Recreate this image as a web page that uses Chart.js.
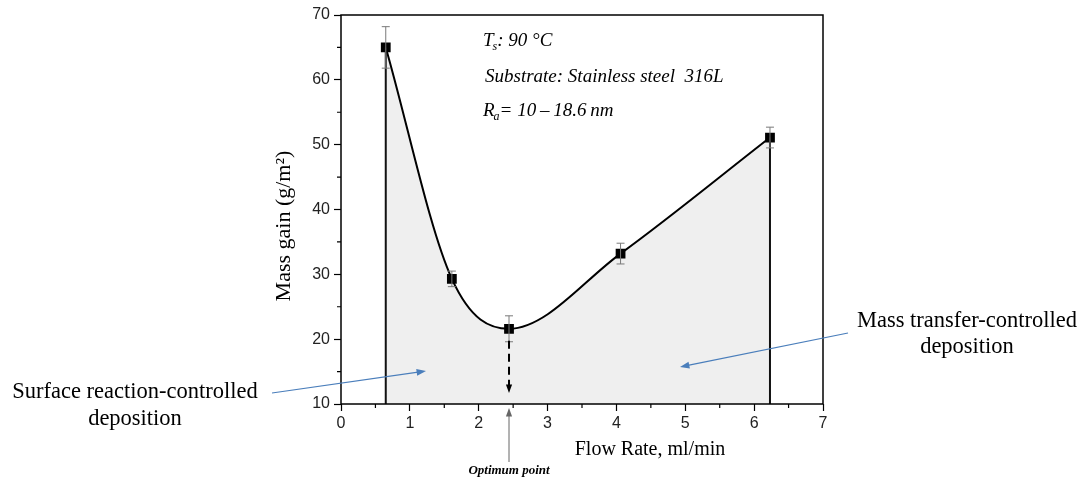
<!DOCTYPE html>
<html>
<head>
<meta charset="utf-8">
<script src="https://cdn.jsdelivr.net/npm/chart.js@4.4.1/dist/chart.umd.min.js"></script>
<style>
  html, body { margin:0; padding:0; background:#fff; }
  #wrap { width:1085px; height:479px; position:relative; }
</style>
</head>
<body>
<div id="wrap"><canvas id="chart" width="1085" height="479"></canvas></div>
<script>
// data
const flowRate = [0.65, 1.61, 2.44, 4.06, 6.23];      // ml/min
const massGain = [65.0, 29.3, 21.6, 33.2, 51.1];      // g/m2
const errGain  = [3.2, 1.2, 2.0, 1.6, 1.6];
const xTicks = [0, 1, 2, 3, 4, 5, 6, 7];
const yTicks = [10, 20, 30, 40, 50, 60, 70];
const optimumX = 2.44;

const SERIF = '"Liberation Serif", "Times New Roman", serif';
const SANS = '"Liberation Sans", Arial, sans-serif';
const BLUE = '#4a7ebb';

const pts = flowRate.map((x, i) => ({ x, y: massGain[i] }));
const firstEdge = [{ x: flowRate[0], y: yTicks[0] }, { x: flowRate[0], y: massGain[0] }];
const lastEdge = [{ x: flowRate[4], y: yTicks[0] }, { x: flowRate[4], y: massGain[4] }];

function arrow(ctx, x1, y1, x2, y2, color, lw, head, dash) {
  const a = Math.atan2(y2 - y1, x2 - x1);
  ctx.save();
  ctx.strokeStyle = color; ctx.fillStyle = color; ctx.lineWidth = lw;
  ctx.setLineDash(dash || []);
  ctx.beginPath();
  ctx.moveTo(x1, y1);
  ctx.lineTo(x2 - Math.cos(a) * head * 0.8, y2 - Math.sin(a) * head * 0.8);
  ctx.stroke();
  ctx.setLineDash([]);
  ctx.beginPath();
  ctx.moveTo(x2, y2);
  ctx.lineTo(x2 - head * Math.cos(a - 0.35), y2 - head * Math.sin(a - 0.35));
  ctx.lineTo(x2 - head * Math.cos(a + 0.35), y2 - head * Math.sin(a + 0.35));
  ctx.closePath();
  ctx.fill();
  ctx.restore();
}

// text with one subscript letter: main, sub, rest
function subText(ctx, x, y, main, sub, rest, size) {
  ctx.font = 'italic ' + size + 'px ' + SERIF;
  ctx.fillText(main, x, y);
  let w = ctx.measureText(main).width;
  ctx.font = 'italic ' + Math.round(size * 0.65) + 'px ' + SERIF;
  ctx.fillText(sub, x + w - 1, y + 4);
  w += ctx.measureText(sub).width - 1;
  ctx.font = 'italic ' + size + 'px ' + SERIF;
  ctx.fillText(rest, x + w, y);
}

const decor = {
  id: 'decor',
  afterDatasetsDraw(chart) {
    const { ctx, chartArea: ca, scales: { x, y } } = chart;
    ctx.save();
    // frame
    ctx.strokeStyle = '#000'; ctx.lineWidth = 1.5;
    ctx.strokeRect(ca.left, ca.top, ca.right - ca.left, ca.bottom - ca.top);

    // minor ticks
    ctx.lineWidth = 1.2;
    ctx.beginPath();
    for (let v = 0.5; v < 7; v += 1) {
      const px = x.getPixelForValue(v);
      ctx.moveTo(px, ca.bottom); ctx.lineTo(px, ca.bottom + 4);
    }
    for (let v = 15; v < 70; v += 10) {
      const py = y.getPixelForValue(v);
      ctx.moveTo(ca.left, py); ctx.lineTo(ca.left - 4, py);
    }
    ctx.stroke();

    // error bars
    ctx.strokeStyle = '#7a7a7a'; ctx.lineWidth = 1;
    flowRate.forEach((fx, i) => {
      const px = x.getPixelForValue(fx);
      const top = y.getPixelForValue(massGain[i] + errGain[i]);
      const bot = y.getPixelForValue(massGain[i] - errGain[i]);
      ctx.beginPath();
      ctx.moveTo(px, top); ctx.lineTo(px, bot);
      ctx.moveTo(px - 4, top); ctx.lineTo(px + 4, top);
      ctx.moveTo(px - 4, bot); ctx.lineTo(px + 4, bot);
      ctx.stroke();
    });

    // optimum arrows
    const ox = x.getPixelForValue(optimumX);
    arrow(ctx, ox, y.getPixelForValue(massGain[2]) + 12, ox, ca.bottom - 11, '#000', 2, 9, [8, 5]);
    arrow(ctx, ox, ca.bottom + 58, ox, ca.bottom + 4, '#666', 1, 9);
    ctx.fillStyle = '#000';
    ctx.font = 'italic bold 13px ' + SERIF;
    ctx.textAlign = 'center'; ctx.textBaseline = 'alphabetic';
    ctx.fillText('Optimum point', ox, ca.bottom + 70);

    // region arrows
    arrow(ctx, 272, 393, 426, 371, BLUE, 1.2, 10);
    arrow(ctx, 848, 333, 680, 367, BLUE, 1.2, 10);

    // conditions text
    ctx.textAlign = 'left';
    subText(ctx, 483, 46, 'T', 's', ': 90 \u00B0C', 19);
    ctx.font = 'italic 19px ' + SERIF;
    ctx.fillText('Substrate: Stainless steel  316L', 485, 82);
    subText(ctx, 483, 116, 'R', 'a', '= 10\u2009\u2013\u200918.6\u2009nm', 19);

    // axis titles
    ctx.textAlign = 'center';
    ctx.font = '20px ' + SERIF;
    ctx.fillText('Flow Rate, ml/min', 650, 455);
    ctx.save();
    ctx.translate(290, 226);
    ctx.rotate(-Math.PI / 2);
    ctx.font = '22px ' + SERIF;
    ctx.fillText('Mass gain (g/m\u00B2)', 0, 0);
    ctx.restore();

    // region labels
    ctx.font = '22.5px ' + SERIF;
    ctx.fillText('Surface reaction-controlled', 135, 398);
    ctx.fillText('deposition', 135, 425);
    ctx.fillText('Mass transfer-controlled', 967, 327);
    ctx.fillText('deposition', 967, 353);
    ctx.restore();
  }
};

new Chart(document.getElementById('chart'), {
  type: 'scatter',
  data: {
    datasets: [
      { label: 'Mass gain', data: pts, showLine: true, borderColor: '#000', borderWidth: 2,
        backgroundColor: '#efefef', fill: 'start', cubicInterpolationMode: 'monotone',
        pointStyle: 'rect', pointRadius: 5.5, pointBackgroundColor: '#000', pointBorderColor: '#000', order: 1 },
      { label: 'edge1', data: firstEdge, showLine: true, borderColor: '#111', borderWidth: 2, pointRadius: 0, fill: false, order: 0 },
      { label: 'edge2', data: lastEdge, showLine: true, borderColor: '#111', borderWidth: 2, pointRadius: 0, fill: false, order: 0 }
    ]
  },
  options: {
    responsive: false,
    animation: false,
    layout: { padding: { left: 0, top: 15, right: 262, bottom: 0 } },
    plugins: { legend: { display: false }, tooltip: { enabled: false } },
    scales: {
      x: {
        type: 'linear', min: 0, max: 7,
        afterFit: s => { s.height = 75; },
        afterBuildTicks: s => { s.ticks = xTicks.map(v => ({ value: v })); },
        border: { display: false },
        grid: { drawOnChartArea: false, tickLength: 7, tickColor: '#000', tickWidth: 1.2 },
        ticks: { color: '#222', font: { family: SANS, size: 16 }, padding: 3 }
      },
      y: {
        type: 'linear', min: 10, max: 70,
        afterFit: s => { s.width = 341; },
        afterBuildTicks: s => { s.ticks = yTicks.map(v => ({ value: v })); },
        border: { display: false },
        grid: { drawOnChartArea: false, tickLength: 7, tickColor: '#000', tickWidth: 1.2 },
        ticks: { color: '#222', font: { family: SANS, size: 16 }, padding: 4 }
      }
    }
  },
  plugins: [decor]
});
</script>
</body>
</html>
